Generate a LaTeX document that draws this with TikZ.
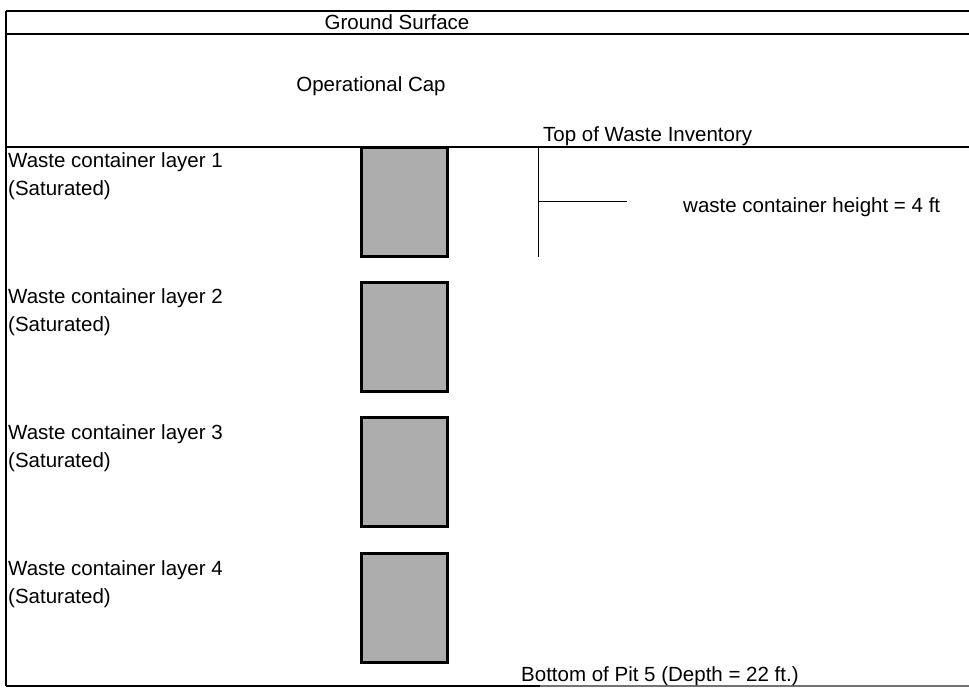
\documentclass[tikz,border=0pt]{standalone}
\usepackage{fontspec}
\setmainfont{Liberation Sans}
\usetikzlibrary{positioning}
\tikzset{
  % labels and boxes
  lbl/.style={font=\fontsize{20.5}{28}\selectfont,inner sep=0pt,align=left},
  wbox/.style={draw=black,line width=2.6pt,fill=black!32,minimum width=86pt,
               minimum height=109pt,inner sep=0pt},
  % lines
  bandline/.style={draw=black,line width=1.6pt},
  groundline/.style={draw=black,line width=2.8pt},
  dimline/.style={draw=black,line width=1pt},
}
\begin{document}
\begin{tikzpicture}[x=1pt,y=-1pt]
  \useasboundingbox (0,0) rectangle (969,689);
  % frame
  \coordinate (ftl) at (6,11);
  \coordinate (fbl) at (6,686);
  \draw[bandline] (ftl) -- (969,11);
  \draw[groundline] (6,34) -- (969,34);
  \draw[bandline] (6,147) -- (969,147);
  \draw[bandline] (fbl) -- (540,686);
  \draw[bandline,black!55] (540,686) -- (969,686);
  \draw[bandline] (ftl) -- (fbl);
  % texts
  \node[lbl] (ground) at (397,22) {Ground Surface};
  \node[lbl] (cap) at (371,86) {Operational Cap};
  \node[lbl,anchor=west] (top) at (543,136) {Top of Waste Inventory};
  \node[lbl,anchor=west] (bottom) at (521,676) {Bottom of Pit 5 (Depth = 22 ft.)};
  % layers
  \foreach \yc/\yt [count=\r] in {202/176,337/312,472/448,608/584} {
    \node[wbox] (box\r) at (404.5,\yc) {};
    \node[lbl,anchor=west] (layer\r) at (8,\yt) {Waste container layer \r\\(Saturated)};
  }
  % height marker
  \coordinate (dtop) at (538,147);
  \coordinate (dbot) at (538,257);
  \coordinate (dmid) at (538,201);
  \coordinate (dtick) at (627,201);
  \draw[dimline] (dtop) -- (dbot);
  \draw[dimline] (dmid) -- (dtick);
  \node[lbl,anchor=west] (height) at (683,207) {waste container height = 4 ft};
\end{tikzpicture}
\end{document}
